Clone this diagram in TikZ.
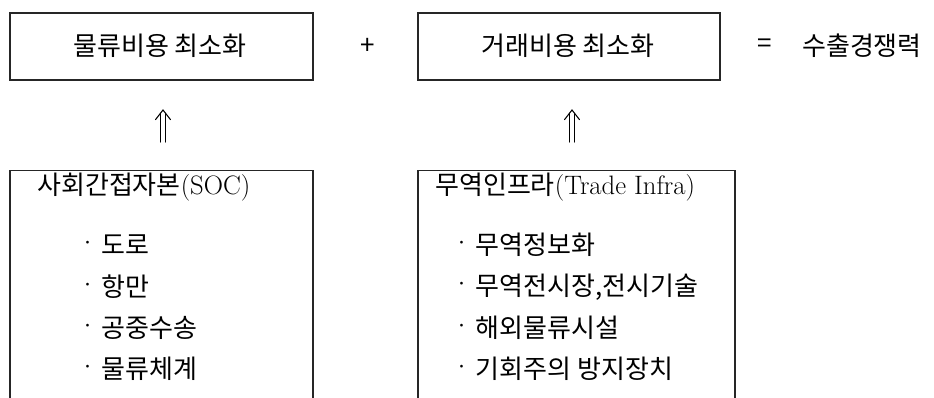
\documentclass[tikz,border=0pt]{standalone}
\usepackage{fontspec}
\newfontfamily\kr{Noto Sans CJK KR}
\newcommand{\bul}{{\fontsize{26pt}{20pt}\selectfont ·}\hspace{1.2pt}}
\newcommand{\lat}[1]{{\fontsize{20pt}{21pt}\selectfont #1}}
\begin{document}
\begin{tikzpicture}[x=0.75pt,y=-0.75pt,
  box/.style={draw=black!85, line width=0.9pt, inner sep=0pt, fill=none},
  txt/.style={inner sep=0pt, font=\fontsize{19.5pt}{21pt}\selectfont, anchor=west},
  ctxt/.style={inner sep=0pt, font=\fontsize{19.5pt}{21pt}\selectfont},
  arr/.style={draw=black, line width=0.8pt, line cap=round, line join=miter}
]
\useasboundingbox (0,0) rectangle (934,397);
% top row
\node[box, minimum width=303*0.75pt, minimum height=67*0.75pt] (tl) at (161.5,46.5) {};
\node[ctxt] (tlt) at (160,46) {\kr 물류비용 최소화};
\node[ctxt] (plus) at (368,46) {\kr +};
\node[box, minimum width=302*0.75pt, minimum height=67*0.75pt] (tr) at (569,46.5) {};
\node[ctxt] (trt) at (568,46) {\kr 거래비용 최소화};
\node[ctxt] (eq) at (765,46) {\kr =};
\node[ctxt] (res) at (862,46) {\kr 수출경쟁력};
% left box texts
\node[txt] (blt) at (37,187) {{\kr 사회간접자본}\lat{(SOC)}};
\node[txt] (bl1) at (75,245) {\bul{\kr 도로}};
\node[txt] (bl2) at (75,287) {\bul{\kr 항만}};
\node[txt] (bl3) at (75,328) {\bul{\kr 공중수송}};
\node[txt] (bl4) at (75,369) {\bul{\kr 물류체계}};
% right box texts
\node[txt] (brt) at (435,187) {{\kr 무역인프라}\lat{(Trade Infra)}};
\node[txt] (br1) at (449,245) {\bul{\kr 무역정보화}};
\node[txt] (br2) at (449,287) {\bul{\kr 무역전시장,전시기술}};
\node[txt] (br3) at (449,328) {\bul{\kr 해외물류시설}};
\node[txt] (br4) at (449,369) {\bul{\kr 기회주의 방지장치}};
% arrows (double-shafted, open chevron head)
\coordinate (b1) at (163,142);
\coordinate (c1) at (163,110);
\coordinate (b2) at (572,142);
\coordinate (c2) at (572,110);
\foreach \b/\c in {b1/c1, b2/c2}{
  \draw[arr] ([xshift=-1.9pt]\b) -- ([xshift=-1.9pt,yshift=-2.4pt]\c)
             ([xshift=1.9pt]\b) -- ([xshift=1.9pt,yshift=-2.4pt]\c);
  \draw[arr] ([xshift=-5.6pt,yshift=-7.2pt]\c) -- (\c) -- ([xshift=5.6pt,yshift=-7.2pt]\c);
}
% bottom boxes (open at the bottom edge)
\begin{scope}
\clip (0,0) rectangle (934,397);
\node[box, minimum width=303*0.75pt, minimum height=260*0.75pt, anchor=north] (bl) at (161.5,169.5) {};
\node[box, minimum width=317*0.75pt, minimum height=260*0.75pt, anchor=north] (br) at (576.5,169.5) {};
\end{scope}
\end{tikzpicture}
\end{document}
